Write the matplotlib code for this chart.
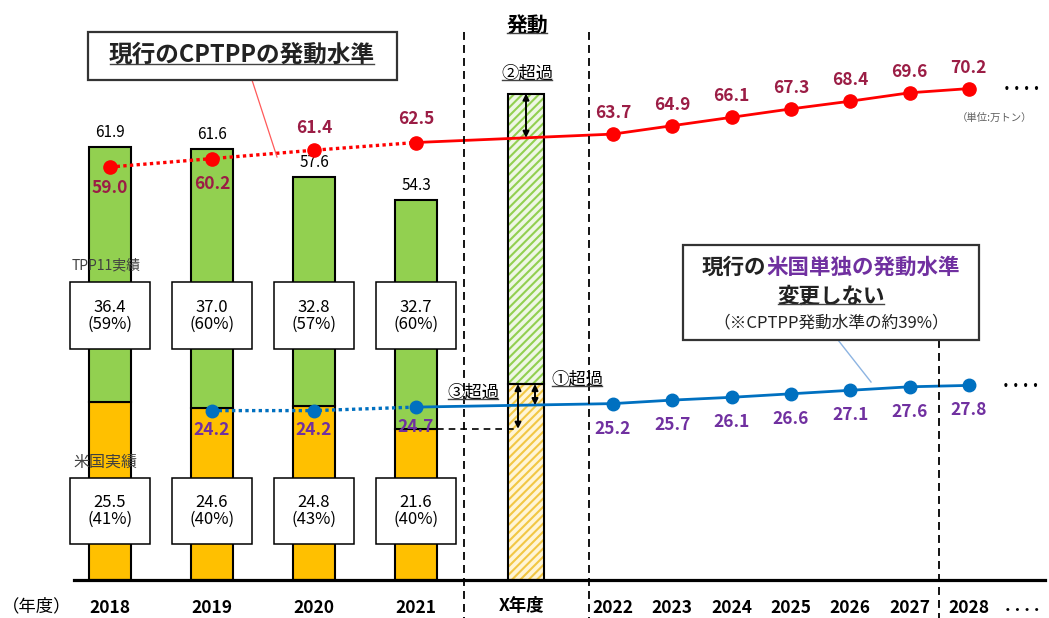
import numpy as np
import matplotlib
matplotlib.use('Agg')
import matplotlib.pyplot as plt
from matplotlib.patches import Rectangle

plt.rcParams['font.family'] = ['Noto Sans CJK JP', 'DejaVu Sans']
plt.rcParams['hatch.linewidth'] = 1.5

# ---------------- data ----------------
years_past = ['2018', '2019', '2020', '2021']
total_actual = [61.9, 61.6, 57.6, 54.3]
us_actual = [25.5, 24.6, 24.8, 21.6]
tpp11_actual = [36.4, 37.0, 32.8, 32.7]
tpp11_share = ['59%', '60%', '57%', '60%']
us_share = ['41%', '40%', '43%', '40%']
cptpp_trigger_past = [59.0, 60.2, 61.4, 62.5]          # 2018-2021
us_trigger_past = [24.2, 24.2, 24.7]                   # 2019-2021
years_future = ['2022', '2023', '2024', '2025', '2026', '2027', '2028']
cptpp_trigger_future = [63.7, 64.9, 66.1, 67.3, 68.4, 69.6, 70.2]
us_trigger_future = [25.2, 25.7, 26.1, 26.6, 27.1, 27.6, 27.8]
x_year_label = 'X年度'
x_year_total = 69.5   # illustrative (schematic bar)
x_year_us = 28.0      # illustrative (schematic bar)

# ---------------- layout ----------------
W, H = 1049, 618
BASE_PX = 580.0
K = 7.0  # pixels per 万トン

fig = plt.figure(figsize=(W / 100, H / 100), dpi=100)
ax = fig.add_axes([0, 0, 1, 1])
ax.set_xlim(0, W)
ax.set_ylim((BASE_PX - H) / K, BASE_PX / K)
ax.axis('off')

pxa = fig.add_axes([0, 0, 1, 1])
pxa.set_xlim(0, W)
pxa.set_ylim(H, 0)
pxa.axis('off')
pxa.patch.set_alpha(0)

xp = 110 + 102 * np.arange(len(years_past))
xf = 613 + 59.3 * np.arange(len(years_future))
xX = 526

GREEN = '#92D050'
ORANGE = '#FFC000'
RED = '#FF0000'
RED_TXT = '#9B1D45'
BLUE = '#0070C0'
PURPLE = '#7030A0'

# bars (actual)
ax.bar(xp, us_actual, width=42, color=ORANGE, edgecolor='black', lw=1.5, zorder=2)
ax.bar(xp, tpp11_actual, bottom=us_actual, width=42, color=GREEN,
       edgecolor='black', lw=1.5, zorder=2)
for x, t in zip(xp, total_actual):
    ax.annotate(f'{t:.1f}', (x, t), xytext=(0, 4), textcoords='offset points',
                ha='center', va='bottom', fontsize=11, zorder=5)

# X-year schematic bar
ax.bar(xX, x_year_us, width=36, color='#FFF5D6', edgecolor='#F2C744',
       hatch='////', lw=0, zorder=2)
ax.bar(xX, x_year_total - x_year_us, bottom=x_year_us, width=36, color='#EEF7E4',
       edgecolor='#92D050', hatch='////', lw=0, zorder=2)
ax.bar(xX, x_year_us, width=36, fill=False, edgecolor='black', lw=1.5, zorder=3)
ax.bar(xX, x_year_total - x_year_us, bottom=x_year_us, width=36, fill=False,
       edgecolor='black', lw=1.5, zorder=3)

# trigger lines
ax.plot(xp, cptpp_trigger_past, color=RED, lw=2.4, ls=(0, (1, 1)), zorder=4)
ax.plot(np.r_[xp[-1], xf], [cptpp_trigger_past[-1]] + cptpp_trigger_future,
        color=RED, lw=2.0, zorder=4)
ax.plot(np.r_[xp, xf], cptpp_trigger_past + cptpp_trigger_future, 'o',
        color=RED, ms=9.5, zorder=5)

ax.plot(xp[1:], us_trigger_past, color=BLUE, lw=2.4, ls=(0, (1, 1)), zorder=4)
ax.plot(np.r_[xp[-1], xf], [us_trigger_past[-1]] + us_trigger_future,
        color=BLUE, lw=2.0, zorder=4)
ax.plot(np.r_[xp[1:], xf], us_trigger_past + us_trigger_future, 'o',
        color=BLUE, ms=9, zorder=5)

# continuation dots
ax.annotate('. . . .', (xf[-1], cptpp_trigger_future[-1]), xytext=(38, 3),
            textcoords='offset points', ha='center', va='center', fontsize=13,
            fontweight='bold')
ax.annotate('. . . .', (xf[-1], us_trigger_future[-1]), xytext=(37, 3),
            textcoords='offset points', ha='center', va='center', fontsize=13,
            fontweight='bold')

# value labels
red_off = [-15, -18, 16, 17]
for x, v, o in zip(xp, cptpp_trigger_past, red_off):
    ax.annotate(f'{v:.1f}', (x, v), xytext=(0, o), textcoords='offset points',
                ha='center', va='center', fontsize=12.5, fontweight='bold',
                color=RED_TXT, zorder=6)
for x, v in zip(xf, cptpp_trigger_future):
    ax.annotate(f'{v:.1f}', (x, v), xytext=(0, 15), textcoords='offset points',
                ha='center', va='center', fontsize=12.5, fontweight='bold',
                color=RED_TXT, zorder=6)
for x, v in zip(xp[1:], us_trigger_past):
    ax.annotate(f'{v:.1f}', (x, v), xytext=(0, -14), textcoords='offset points',
                ha='center', va='center', fontsize=12.5, fontweight='bold',
                color=PURPLE, zorder=6)
for x, v in zip(xf, us_trigger_future):
    ax.annotate(f'{v:.1f}', (x, v), xytext=(0, -18), textcoords='offset points',
                ha='center', va='center', fontsize=12.5, fontweight='bold',
                color=PURPLE, zorder=6)

# exceed arrows
red_at_X = np.interp(xX, [xp[-1], xf[0]], [cptpp_trigger_past[-1], cptpp_trigger_future[0]])
blue_at_X = np.interp(xX, [xp[-1], xf[0]], [us_trigger_past[-1], us_trigger_future[0]])
arw = dict(arrowstyle='<|-|>', color='black', lw=1.4, mutation_scale=9,
           shrinkA=0, shrinkB=0)
ax.annotate('', xy=(xX, x_year_total), xytext=(xX, red_at_X), arrowprops=arw, zorder=7)
ax.annotate('', xy=(xX + 9, x_year_us), xytext=(xX + 9, blue_at_X), arrowprops=arw, zorder=7)
ax.annotate('', xy=(xX - 8, x_year_us), xytext=(xX - 8, us_actual[-1]), arrowprops=arw, zorder=7)
ax.plot([xp[-1] + 21, xX - 8], [us_actual[-1]] * 2, color='black', lw=1.2,
        ls=(0, (4, 3)), zorder=3)

# ---------------- annotation layer (pixel coords) ----------------
for x, y0 in [(464, 32), (589, 32), (939, 340)]:
    pxa.plot([x, x], [y0, H], color='black', lw=1.3, ls=(0, (4.4, 2.8)), zorder=1)

pxa.plot([74, 1045], [BASE_PX, BASE_PX], color='black', lw=2.3, zorder=3)

for i, x in enumerate(xp):
    pxa.add_patch(Rectangle((x - 40, 282), 80, 67, facecolor='white',
                            edgecolor='black', lw=1.1, zorder=4))
    pxa.text(x, 316, f'{tpp11_actual[i]:.1f}\n({tpp11_share[i]})', ha='center',
             va='center', fontsize=12, linespacing=1.05, zorder=5)
    pxa.add_patch(Rectangle((x - 40, 478), 80, 66, facecolor='white',
                            edgecolor='black', lw=1.1, zorder=4))
    pxa.text(x, 511, f'{us_actual[i]:.1f}\n({us_share[i]})', ha='center',
             va='center', fontsize=12, linespacing=1.05, zorder=5)

pxa.text(106, 265, 'TPP11実績', ha='center', va='center', fontsize=10,
         color='#404040', zorder=5)
pxa.text(105, 462, '米国実績', ha='center', va='center', fontsize=11.5,
         color='#404040', zorder=5)

for x, y in zip(xp, years_past):
    pxa.text(x, 608, y, ha='center', va='center', fontsize=12.5, fontweight='bold')
for x, y in zip(xf, years_future):
    pxa.text(x, 608, y, ha='center', va='center', fontsize=12.5, fontweight='bold')
pxa.text(xX - 4, 606, x_year_label, ha='center', va='center', fontsize=12.5,
         fontweight='bold')
pxa.text(2, 606, '（年度）', ha='left', va='center', fontsize=12.5)
pxa.text(1022, 606, '. . . .', ha='center', va='center', fontsize=12.5,
         fontweight='bold')

pxa.text(995, 118, '（単位:万トン）', ha='center', va='center', fontsize=7.5,
         color='#606060')

# CPTPP box
pxa.add_patch(Rectangle((88, 32), 309, 48, facecolor='white', edgecolor='#333333',
                        lw=1.6, zorder=4))
t_cptpp = pxa.text(242, 55, '現行のCPTPPの発動水準', ha='center', va='center',
                   fontsize=17, fontweight='bold', color='#222222', zorder=5)
pxa.plot([252, 277], [80, 157], color='#FF5A5A', lw=0.9, zorder=3)

# US box
pxa.add_patch(Rectangle((683, 245), 296, 95, facecolor='white', edgecolor='#333333',
                        lw=1.6, zorder=4))
pxa.plot([838, 871], [340, 382], color='#8DB4E2', lw=1.0, zorder=3)

t_hatsudo = pxa.text(527, 25, '発動', ha='center', va='center', fontsize=15,
                     fontweight='bold', zorder=5)
t_ex2 = pxa.text(527, 74, '②超過', ha='center', va='center', fontsize=12.5, zorder=5)
t_ex3 = pxa.text(473, 393, '③超過', ha='center', va='center', fontsize=12.5, zorder=5)
t_ex1 = pxa.text(577, 380, '①超過', ha='center', va='center', fontsize=12.5, zorder=5)

fig.canvas.draw()
r = fig.canvas.get_renderer()

ta = pxa.text(0, 267, '現行の', ha='left', va='center', fontsize=15.5,
              fontweight='bold', color='#222222', zorder=5)
tb = pxa.text(0, 267, '米国単独の発動水準', ha='left', va='center', fontsize=15.5,
              fontweight='bold', color=PURPLE, zorder=5)
wa = ta.get_window_extent(r).width
wb = tb.get_window_extent(r).width
x0 = 831 - (wa + wb) / 2
ta.set_x(x0)
tb.set_x(x0 + wa)
t_keep = pxa.text(831, 296, '変更しない', ha='center', va='center', fontsize=15.5,
                  fontweight='bold', color='#222222', zorder=5)
pxa.text(831, 323, '（※CPTPP発動水準の約39%）', ha='center', va='center',
         fontsize=12, color='#222222', zorder=5)

fig.canvas.draw()


def underline(t, lw=1.0, color='#444444', drop=3):
    bb = t.get_window_extent(r)
    y = H - bb.y0 - drop
    pxa.plot([bb.x0 + 1, bb.x1 - 1], [y, y], color=color, lw=lw, zorder=6)


for t in [t_cptpp, t_hatsudo, t_ex2, t_ex3, t_ex1, t_keep]:
    underline(t)

fig.savefig('out.png', dpi=100)
